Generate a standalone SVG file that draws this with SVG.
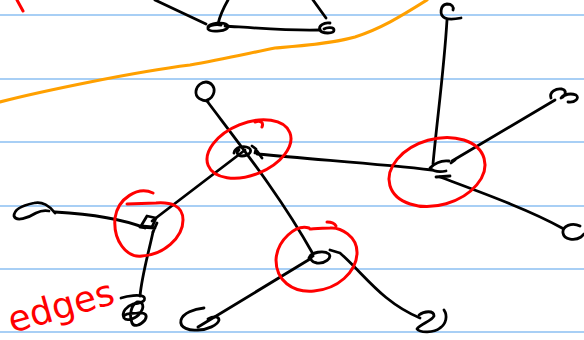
<svg xmlns="http://www.w3.org/2000/svg" width="584" height="340" viewBox="0 0 584 340">
<style>
.rule{stroke:#a8cff5;stroke-width:2}
.ink{fill:none;stroke:#000;stroke-width:2.8;stroke-linecap:round;stroke-linejoin:round}
.red{fill:none;stroke:#f00;stroke-width:3;stroke-linecap:round;stroke-linejoin:round}
.orange{fill:none;stroke:#ffa000;stroke-width:3.2;stroke-linecap:round;stroke-linejoin:round}
.lbl{fill:#f00;font-family:"DejaVu Sans","Liberation Sans",sans-serif;font-size:36px}
</style>
<rect width="584" height="340" fill="#fff"/>
<g id="paper">
<line class="rule" x1="0" y1="15" x2="584" y2="15"/>
<line class="rule" x1="0" y1="79" x2="584" y2="79"/>
<line class="rule" x1="0" y1="142" x2="584" y2="142"/>
<line class="rule" x1="0" y1="206" x2="584" y2="206"/>
<line class="rule" x1="0" y1="269" x2="584" y2="269"/>
<line class="rule" x1="0" y1="332" x2="584" y2="332"/>
</g>
<path id="boundary" class="orange" d="M0,102 C30,94 60,88 90,82 C120,76 150,70 190,65 C220,60 250,53 275,48 C300,46 330,44 355,37 C380,29 400,17 427,0"/>
<path id="redmark" class="red" d="M17,0 L23,11"/>
<g id="connectors">
<path class="ink" d="M155,0 L206,24"/>
<path class="ink" d="M218,24 C220,15 224,7 228,0"/>
<path class="ink" d="M225,26 C255,28 290,31 320,30"/>
<path class="ink" d="M326,18 L313,0"/>
<path class="ink" d="M447,20 C444,70 437,120 433,164"/>
<path class="ink" d="M452,161 L555,100"/>
<path class="ink" d="M440,177 C480,192 530,210 562,228"/>
<path class="ink" d="M257,154 C320,160 380,164 432,170"/>
<path class="ink" d="M207,101 C240,145 280,195 313,254"/>
<path class="ink" d="M245,150 L152,221"/>
<path class="ink" d="M55,212 C90,214 120,218 145,228"/>
<path class="ink" d="M153,232 C148,255 142,275 140,296"/>
<path class="ink" d="M310,259 L198,327"/>
<path class="ink" d="M330,250 L340,253 C365,275 382,302 420,318"/>
</g>
<g id="nA"><path class="ink" d="M208,28 C207,23 226,21 228,26 C229,31 211,33 208,29 C207,26 214,24 221,25"/></g>
<g id="nB"><path class="ink" d="M330,23 C324,22 318,26 320,30 C322,34 334,34 334,30 C334,27 327,27 324,29"/></g>
<g id="nC"><path class="ink" d="M461,18 C456,19 449,20 445,18 C439,15 440,5 447,4 C452,4 454,7 453,10"/></g>
<g id="nE"><path class="ink" d="M551,98 C549,92 556,88 562,89 C567,90 566,96 561,98 C564,94 571,93 576,95 C580,98 575,103 568,102"/></g>
<g id="nF"><path class="ink" d="M580,226 C572,222 562,226 563,233 C564,240 575,241 581,237 L584,234"/></g>
<g id="nH"><path class="ink" d="M208,101 C202,101 195,98 196,91 C197,85 202,82 206,82 C211,82 215,87 214,92 C213,97 210,99 207,100"/></g>
<g id="nG">
<ellipse class="red" cx="249" cy="149" rx="44" ry="26" transform="rotate(-22 249 149)"/>
<path class="red" d="M255,122 C260,120 264,122 262,127"/>
<path class="ink" d="M234,153 C235,147 244,145 249,148 C253,151 249,156 242,156 C237,156 236,152 239,150 M252,146 L256,149 L255,153 M257,151 L262,158"/>
</g>
<g id="nD">
<ellipse class="red" cx="437" cy="172" rx="49" ry="33" transform="rotate(-16 437 172)"/>
<path class="ink" d="M449,161 C441,160 434,164 430,168 C434,172 441,172 446,171 M436,177 L450,176 M455,160 L451,163"/>
</g>
<g id="nJ">
<path class="red" d="M153,193 C138,186 118,198 115,218 C113,240 126,258 142,256 C163,255 183,238 183,220 C183,205 170,202 156,203 L127,204"/>
<path class="ink" d="M141,226 L147,216 L156,218 L152,227 Z M140,227 L155,228 M157,223 L153,232"/>
</g>
<g id="nK"><path class="ink" d="M55,213 C50,206 42,201 34,203 C24,205 14,209 14,216 C16,222 28,218 36,213 C40,211 44,210 49,211"/></g>
<g id="nL"><path class="ink" d="M121,298 C127,296 140,294 144,297 C147,301 139,304 133,304 C127,306 121,312 124,318 C127,322 137,318 140,313 C145,307 143,301 137,302 C131,305 129,315 132,323 C134,327 140,326 145,320 C148,315 145,312 138,313 C133,314 127,312 124,316"/></g>
<g id="nI">
<path class="red" d="M309,228 C296,224 277,240 276,260 C276,280 292,293 314,291 C338,289 356,272 357,254 C358,236 340,227 330,228 C320,228 312,229 310,229"/>
<path class="red" d="M327,222 C332,222 335,224 336,226"/>
<path class="ink" d="M309,258 C311,252 324,250 329,254 C332,258 325,264 317,263 C311,262 309,258 313,256"/>
</g>
<g id="nM"><path class="ink" d="M204,308 C194,309 183,313 181,320 C179,328 190,331 198,330 C207,330 218,325 219,320 C219,316 213,316 208,319"/></g>
<g id="nN"><path class="ink" d="M419,315 C424,311 434,310 434,316 C432,321 420,324 417,329 C420,333 434,333 440,328 C446,324 448,316 444,310"/></g>
<text class="lbl" x="12" y="333" transform="rotate(-16 12 333)">edges</text>
</svg>
